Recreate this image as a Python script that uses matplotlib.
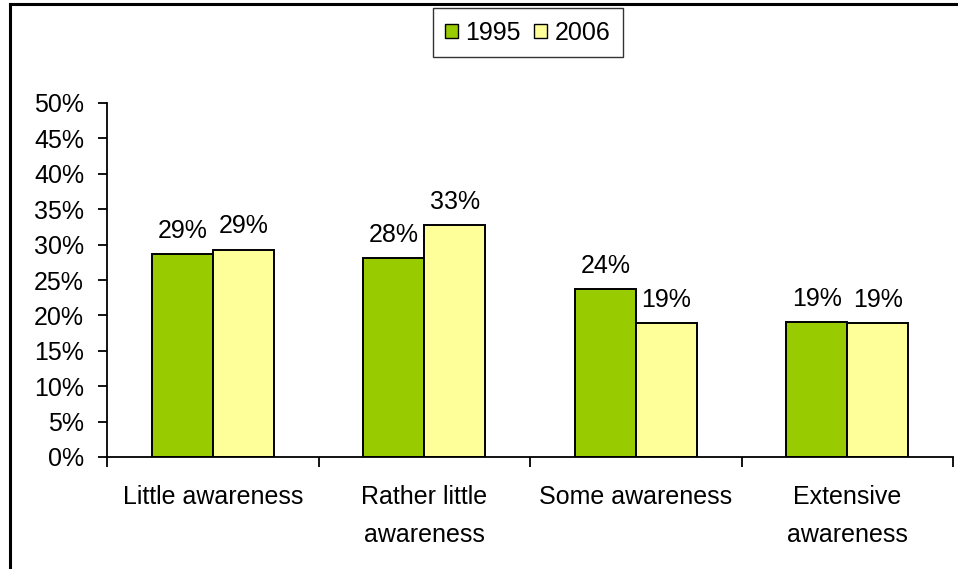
import matplotlib
matplotlib.use("Agg")
import matplotlib.pyplot as plt
import numpy as np
from matplotlib.lines import Line2D
from matplotlib.patches import Patch
from matplotlib.ticker import FuncFormatter

plt.rcParams["font.family"] = ["Liberation Sans", "DejaVu Sans"]

categories = ["Little awareness", "Rather little\nawareness", "Some awareness", "Extensive\nawareness"]
series_names = ["1995", "2006"]
values_1995 = [28.7, 28.1, 23.7, 19.1]
values_2006 = [29.3, 32.7, 18.9, 18.9]
colors = ["#99CC00", "#FFFF99"]

FS = 18
fig = plt.figure(figsize=(9.58, 5.69), dpi=100)
ax = fig.add_axes([107 / 958, 1 - 457 / 569, (953 - 107) / 958, (457 - 103) / 569])

x = np.arange(len(categories))
w = 0.288
for k, (vals, col) in enumerate(zip([values_1995, values_2006], colors)):
    offs = (k - 0.5) * w
    bars = ax.bar(x + offs, vals, width=w, color=col, edgecolor="black", linewidth=1.4, zorder=2)
    for b, v in zip(bars, vals):
        ax.annotate(f"{round(v):.0f}%", (b.get_x() + b.get_width() / 2, v),
                    xytext=(0, 8), textcoords="offset points",
                    ha="center", va="bottom", fontsize=FS)

ax.set_xlim(-0.5, len(categories) - 0.5)
ax.set_ylim(0, 50)
ax.set_yticks(np.arange(0, 51, 5))
ax.yaxis.set_major_formatter(FuncFormatter(lambda v, _: f"{v:.0f}%"))

# category boundaries carry the ticks, labels sit in between
ax.set_xticks(np.arange(-0.5, len(categories), 1.0))
ax.set_xticklabels([])
ax.set_xticks(x, minor=True)
ax.set_xticklabels(categories, minor=True, fontsize=FS, linespacing=1.75)
ax.tick_params(axis="x", which="minor", length=0, pad=20)
ax.tick_params(axis="x", which="major", length=7, width=1.3, direction="out")
ax.tick_params(axis="y", length=6.5, width=1.3, direction="out", labelsize=FS, pad=10)

for s in ("top", "right"):
    ax.spines[s].set_visible(False)
for s in ("left", "bottom"):
    ax.spines[s].set_linewidth(1.3)

handles = [Patch(facecolor=c, edgecolor="black", linewidth=1.0) for c in colors]
leg = fig.legend(handles, series_names, loc="center", bbox_to_anchor=(527.5 / 958, 1 - 32.5 / 569),
                 ncol=2, fontsize=FS, frameon=True, fancybox=False, handlelength=0.5,
                 handleheight=0.5, handletextpad=0.3, columnspacing=0.55, borderpad=0.5,
                 borderaxespad=0)
leg.get_frame().set_edgecolor("black")
leg.get_frame().set_linewidth(1.0)

# outer chart border (top and left visible in the crop)
fig.add_artist(Line2D([10 / 958, 10 / 958], [0, 1 - 4 / 569], transform=fig.transFigure,
                      color="black", linewidth=2.2))
fig.add_artist(Line2D([10 / 958, 1], [1 - 4 / 569, 1 - 4 / 569], transform=fig.transFigure,
                      color="black", linewidth=2.2))

fig.savefig("out.png", dpi=100)
